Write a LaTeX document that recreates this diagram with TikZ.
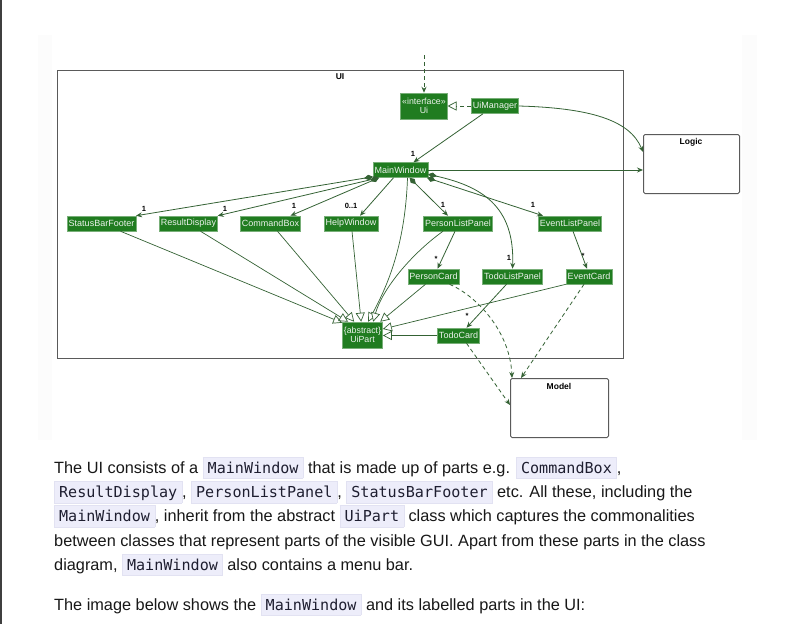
\documentclass[tikz,border=0pt]{standalone}
\usepackage{fontspec}
\setmainfont{Liberation Sans}
\setmonofont{DejaVu Sans Mono}
\newfontfamily\umlfont{Liberation Sans}
\usetikzlibrary{arrows.meta}
\definecolor{clsfill}{RGB}{32,124,32}
\definecolor{clsedge}{RGB}{120,175,120}
\definecolor{clstext}{RGB}{236,242,236}
\definecolor{lnkgreen}{RGB}{52,98,52}
\definecolor{boxgray}{RGB}{90,90,90}
\definecolor{panelgray}{RGB}{252,252,252}
\definecolor{bodyink}{RGB}{24,24,24}
\definecolor{codebg}{RGB}{237,237,250}
\definecolor{codeedge}{RGB}{226,226,242}
\definecolor{codeink}{RGB}{30,30,48}
\newcommand{\inlinecode}[1]{{\setlength{\fboxsep}{0pt}\setlength{\fboxrule}{0.4pt}\fcolorbox{codeedge}{codebg}{\hspace{4.5pt}\rule[-5pt]{0pt}{21pt}{\ttfamily\fontsize{15.1}{15}\selectfont\color{codeink}#1}\hspace{4.5pt}}}}
\begin{document}
\begin{tikzpicture}[x=1pt,y=-1pt,
  cls/.style={draw=clsedge, line width=0.5pt, fill=clsfill, text=clstext, font=\umlfont\fontsize{9}{10}\selectfont, inner xsep=1.5pt, inner ysep=0pt, minimum height=15pt},
  twoline/.style={cls, align=center, minimum height=26pt, font=\umlfont\fontsize{8.8}{9.5}\selectfont},
  pkgbox/.style={draw=boxgray, line width=1pt, inner sep=0pt, anchor=north west},
  pkgtitle/.style={font=\umlfont\bfseries\fontsize{8.5}{9}\selectfont, inner sep=0pt},
  mult/.style={font=\umlfont\bfseries\fontsize{7.5}{8}\selectfont, inner sep=0pt},
  assoc/.style={draw=lnkgreen, line width=0.8pt, -{Stealth[length=6pt,width=5pt,inset=2pt]}},
  comp/.style={assoc, {Diamond[length=9pt,width=5.5pt]}-{Stealth[length=6pt,width=5pt,inset=2pt]}},
  inherit/.style={draw=lnkgreen, line width=0.7pt, -{Triangle[open,length=9pt,width=9pt,fill=white]}},
  depend/.style={assoc, dash pattern=on 4pt off 3pt},
  realize/.style={inherit, dash pattern=on 4pt off 3pt},
  para/.style={font=\fontsize{16.3}{24}\selectfont, text=bodyink, inner sep=0pt, anchor=base west}]
\useasboundingbox (0,0) rectangle (791,624);
\fill[white] (0,0) rectangle (791,624);
\draw[boxgray!70!black, line width=1.5pt] (0.75,0) -- (0.75,624);
\fill[panelgray] (38,35) rectangle (757,440);
\fill[white] (52,35) rectangle (742,440);

\node[pkgbox, minimum width=566pt, minimum height=288pt] (uipkg) at (57,70) {};
\node[pkgtitle] (uititle) at (340,77) {UI};
\node[pkgbox, rounded corners=1.5pt, minimum width=96pt, minimum height=59pt] (logic) at (643,134) {};
\node[pkgtitle] (logictitle) at (691,142) {Logic};
\node[pkgbox, rounded corners=1.5pt, minimum width=98pt, minimum height=59pt] (model) at (510,378) {};
\node[pkgtitle] (modeltitle) at (559,386) {Model};

\node[twoline] (ui) at (424,106) {«interface»\\Ui};
\node[cls] (uimgr) at (495,106) {UiManager};
\node[cls] (mainwin) at (400.5,170) {MainWindow};
\node[cls] (sbf) at (101.5,223.5) {StatusBarFooter};
\node[cls] (rd) at (188.5,223.5) {ResultDisplay};
\node[cls] (cb) at (270.5,223.5) {CommandBox};
\node[cls] (hw) at (351,223.5) {HelpWindow};
\node[cls] (plp) at (458,223.5) {PersonListPanel};
\node[cls] (elp) at (570,223.5) {EventListPanel};
\node[cls] (pc) at (433.5,276.5) {PersonCard};
\node[cls] (tlp) at (512.5,276.5) {TodoListPanel};
\node[cls] (ec) at (589,276.5) {EventCard};
\node[twoline] (uipart) at (362.5,335) {\{abstract\}\\UiPart};
\node[cls] (tc) at (458.5,335.5) {TodoCard};

\coordinate (caller) at (424,55);
\draw[depend] (caller) -- (ui.north);
\draw[realize] (uimgr.west) -- (ui.east);
\draw[assoc] (uimgr.east) .. controls (590,108) and (630,120) .. ([yshift=-18pt]logic.north west);
\draw[assoc] ([xshift=-12pt]uimgr.south) -- ([xshift=13pt]mainwin.north);
\node[mult] (m0) at (413,154) {1};
\draw[assoc] (mainwin.east) -- (mainwin.east -| logic.west);

\draw[comp] ([yshift=1pt]mainwin.south west) -- (sbf.north east);
\draw[comp] ([xshift=6pt]mainwin.south west) -- (rd.north east);
\draw[comp] ([xshift=6pt]mainwin.south west) -- ([xshift=20pt]cb.north);
\draw[assoc] ([xshift=-7pt]mainwin.south) -- ([xshift=9pt]hw.north);
\draw[comp] ([xshift=9pt]mainwin.south) -- ([xshift=-10pt]plp.north);
\draw[comp] ([xshift=-1pt]mainwin.south east) -- ([xshift=-27pt]elp.north);
\draw[comp] ([yshift=3.5pt]mainwin.south east) .. controls (480,186) and (515,205) .. (tlp.north);
\node[mult] (m1) at (144,209) {1};
\node[mult] (m2) at (225,209) {1};
\node[mult] (m3) at (294,206) {1};
\node[mult] (m4) at (351,206) {0..1};
\node[mult] (m5) at (443,205) {1};
\node[mult] (m6) at (533,205) {1};
\node[mult] (m7) at (509,258) {1};

\draw[assoc] ([xshift=-3pt]plp.south) -- ([xshift=4pt]pc.north);
\draw[assoc] ([xshift=3pt]elp.south) -- ([xshift=-2pt]ec.north);
\draw[assoc] ([xshift=-6pt]tlp.south) -- ([xshift=8pt]tc.north);
\node[mult] (m8) at (436,259) {*};
\node[mult] (m9) at (583,256) {*};
\node[mult] (m10) at (467,316) {*};

\draw[inherit] ([xshift=19pt]sbf.south) -- ([yshift=-1pt]uipart.north west);
\draw[inherit] ([xshift=12pt]rd.south) -- ([xshift=6pt]uipart.north west);
\draw[inherit] ([xshift=7pt]cb.south) -- ([xshift=12pt]uipart.north west);
\draw[inherit] ([xshift=1pt]hw.south) -- ([xshift=19pt]uipart.north west);
\draw[inherit] ([xshift=7pt]mainwin.south) .. controls (405,250) and (385,290) .. ([xshift=26pt]uipart.north west);
\draw[inherit] ([xshift=-15pt]plp.south) .. controls (410,255) and (382,290) .. ([xshift=31pt]uipart.north west);
\draw[inherit] ([xshift=-8pt]pc.south) -- ([xshift=38pt]uipart.north west);
\draw[inherit] (ec.south west) -- ([yshift=6pt]uipart.east);
\draw[inherit] (tc.west) -- (tc.west -| uipart.east);

\draw[depend] ([xshift=16pt]pc.south) .. controls (475,295) and (510,330) .. ([xshift=2pt]model.north west);
\draw[depend] ([xshift=-5pt]ec.south) -- ([xshift=11pt]model.north west);
\draw[depend] ([xshift=8pt]tc.south) -- ([yshift=-27pt]model.north west);

\node[para] (line1) at (54,473) {The UI consists of a \inlinecode{MainWindow} that is made up of parts e.g. \inlinecode{CommandBox},};
\node[para] (line2) at (54,497.5) {\inlinecode{ResultDisplay}, \inlinecode{PersonListPanel}, \inlinecode{StatusBarFooter} etc. All these, including the};
\node[para] (line3) at (54,521.5) {\inlinecode{MainWindow}, inherit from the abstract \inlinecode{UiPart} class which captures the commonalities};
\node[para] (line4) at (54,546) {between classes that represent parts of the visible GUI. Apart from these parts in the class};
\node[para] (line5) at (54,570) {diagram, \inlinecode{MainWindow} also contains a menu bar.};
\node[para] (line6) at (54,610) {The image below shows the \inlinecode{MainWindow} and its labelled parts in the UI:};
\end{tikzpicture}
\end{document}
